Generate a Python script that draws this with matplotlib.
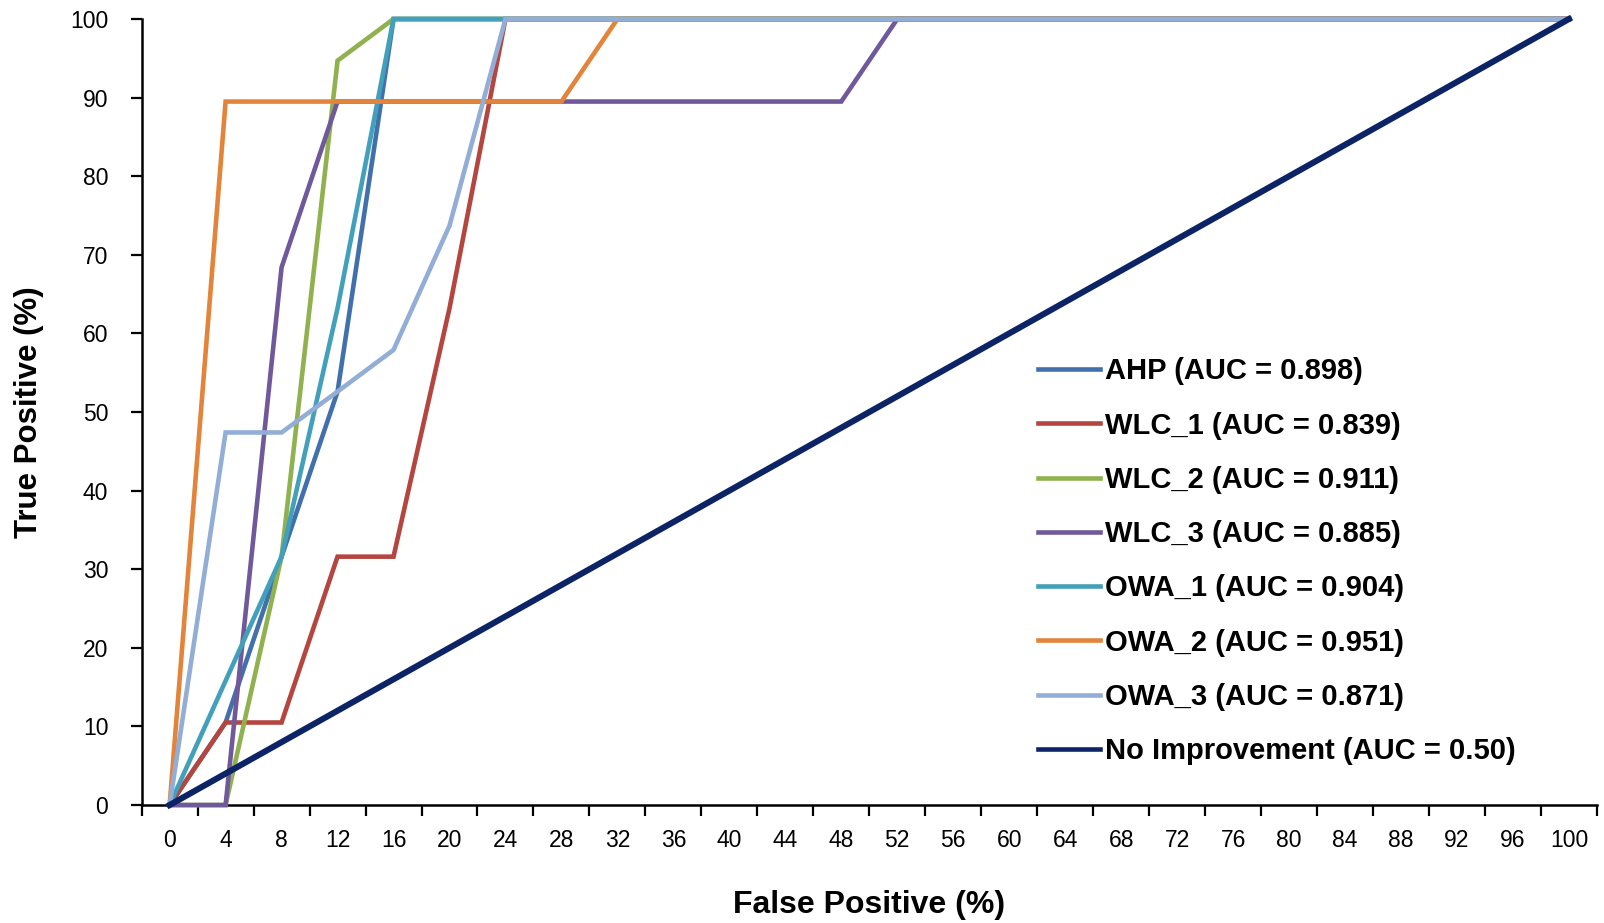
import matplotlib
matplotlib.use("Agg")
from matplotlib import pyplot as plt
import numpy as np

# False positive rate categories (%)
false_pos = [0, 4, 8, 12, 16, 20, 24, 28, 32, 36, 40, 44, 48, 52,
             56, 60, 64, 68, 72, 76, 80, 84, 88, 92, 96, 100]

# True positive rate (%) per method, read at each category
ahp = [0, 10.5, 31.6, 52.6] + [100] * 22
wlc_1 = [0, 10.5, 10.5, 31.6, 31.6, 63.2] + [100] * 20
wlc_2 = [0, 0, 31.6, 94.7] + [100] * 22
wlc_3 = [0, 0, 68.4] + [89.5] * 10 + [100] * 13
owa_1 = [0, 15.8, 31.6, 63.2] + [100] * 22
owa_2 = [0] + [89.5] * 7 + [100] * 18
owa_3 = [0, 47.4, 47.4, 52.6, 57.9, 73.7] + [100] * 20
no_improvement = [0, 4, 8, 12, 16, 20, 24, 28, 32, 36, 40, 44, 48, 52,
                  56, 60, 64, 68, 72, 76, 80, 84, 88, 92, 96, 100]

labels = ["AHP (AUC = 0.898)", "WLC_1 (AUC = 0.839)", "WLC_2 (AUC = 0.911)",
          "WLC_3 (AUC = 0.885)", "OWA_1 (AUC = 0.904)", "OWA_2 (AUC = 0.951)",
          "OWA_3 (AUC = 0.871)", "No Improvement (AUC = 0.50)"]
colors = ["#4170ad", "#b4453f", "#8fb14e", "#70599a", "#42a0bb", "#e3843a",
          "#92aed6", "#0c2465"]
series = [ahp, wlc_1, wlc_2, wlc_3, owa_1, owa_2, owa_3, no_improvement]

plt.rcParams["font.family"] = ["Liberation Sans", "DejaVu Sans"]

fig = plt.figure(figsize=(16.04, 9.23), dpi=100)
ax = fig.add_axes([0.0883, 0.1278, 0.9073, 0.8516])

for i, (vals, lab, col) in enumerate(zip(series, labels, colors)):
    lw = 4.4 if i == len(series) - 1 else 3.3
    ax.plot(false_pos, vals, color=col, lw=lw, label=lab, clip_on=False,
            solid_joinstyle="miter", zorder=2 + i)

# category-style axis: labels at centres, tick marks between categories
ax.set_xlim(-2, 102)
ax.set_ylim(0, 100)
ax.set_xticks(false_pos)
ax.set_xticklabels([str(v) for v in false_pos])
ax.set_xticks(np.arange(-2, 103, 4), minor=True)
ax.tick_params(axis="x", which="major", length=0, pad=17, labelsize=16.5)
ax.tick_params(axis="x", which="minor", length=8, width=1.6, direction="out")
ax.set_yticks(range(0, 101, 10))
ax.tick_params(axis="y", length=8, width=1.6, direction="out", pad=16, labelsize=16.5)

for s in ["top", "right"]:
    ax.spines[s].set_visible(False)
for s in ["left", "bottom"]:
    ax.spines[s].set_linewidth(1.8)
    ax.spines[s].set_color("black")

ax.set_xlabel("False Positive (%)", fontsize=23, fontweight="bold")
ax.xaxis.set_label_coords(0.5, -0.127)
ax.xaxis.label.set_va("center")
ax.set_ylabel("True Positive (%)", fontsize=22.5, fontweight="bold")
ax.yaxis.set_label_coords(-0.0774, 0.5)
ax.yaxis.label.set_va("center")

leg = ax.legend(loc="center left", bbox_to_anchor=(0.647, 0.392),
                bbox_transform=fig.transFigure, frameon=False,
                prop={"size": 21, "weight": "bold"}, handlelength=2.15,
                handletextpad=0.15, labelspacing=0.9, borderpad=0,
                borderaxespad=0)
for line in leg.get_lines():
    line.set_linewidth(3.3)

plt.savefig("out.png", dpi=100)
plt.close()
